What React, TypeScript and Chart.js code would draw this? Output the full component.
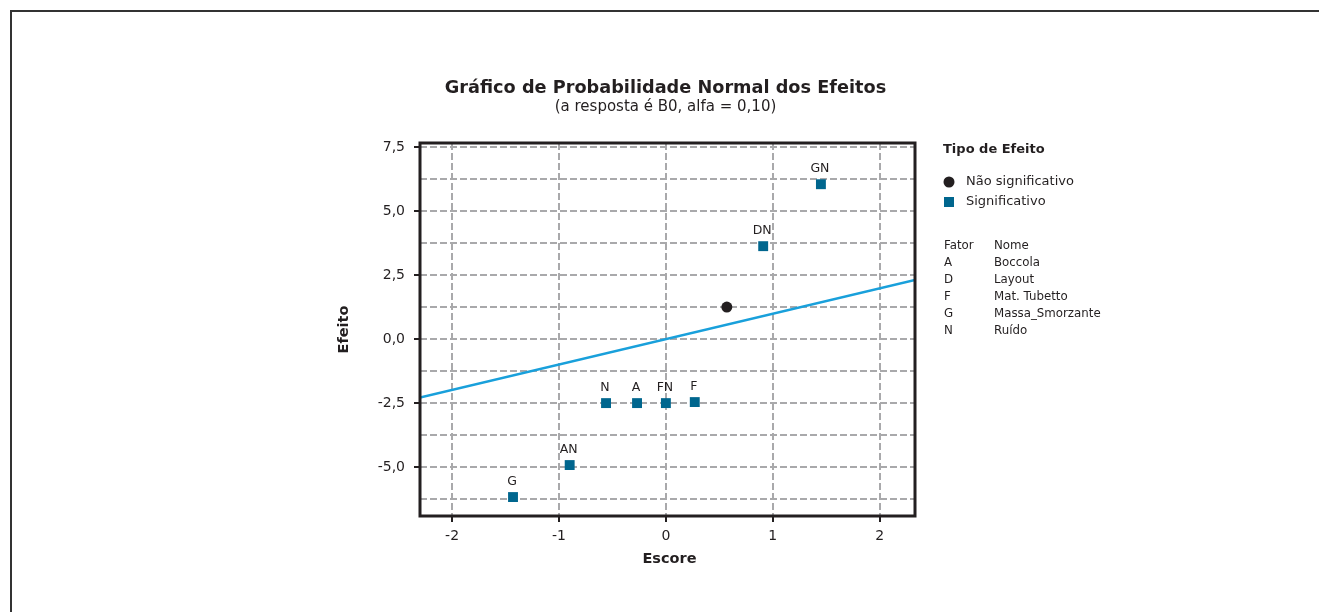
import React, { useEffect, useRef } from 'react';
import { Chart, registerables } from 'chart.js';

Chart.register(...registerables);

const FONT = '"DejaVu Sans", Verdana, sans-serif';

const TITLE = 'Gráfico de Probabilidade Normal dos Efeitos';
const SUBTITLE = '(a resposta é B0, alfa = 0,10)';
const X_TITLE = 'Escore';
const Y_TITLE = 'Efeito';

const X_TICKS = [-2, -1, 0, 1, 2];
const X_TICK_LABELS = ['-2', '-1', '0', '1', '2'];
const Y_GRID = [-6.25, -5, -3.75, -2.5, -1.25, 0, 1.25, 2.5, 3.75, 5, 6.25, 7.5];
const Y_LABELED = [-5, -2.5, 0, 2.5, 5, 7.5];
const Y_TICK_LABELS = ['-5,0', '-2,5', '0,0', '2,5', '5,0', '7,5'];

const SIG_LABELS = ['G', 'AN', 'N', 'A', 'FN', 'F', 'DN', 'GN'];
const SIG_SCORES = [-1.43, -0.9, -0.56, -0.27, 0.0, 0.27, 0.91, 1.45];
const SIG_EFFECTS = [-6.17, -4.92, -2.5, -2.5, -2.5, -2.46, 3.63, 6.05];

const NONSIG_SCORES = [0.57];
const NONSIG_EFFECTS = [1.25];

const LINE_SCORES = [-2.3, 2.33];
const LINE_EFFECTS = [-2.28, 2.31];

const LEGEND_TITLE = 'Tipo de Efeito';
const LEGEND_ITEMS = ['Não significativo', 'Significativo'];
const FACTOR_HEADER = ['Fator', 'Nome'];
const FACTORS = ['A', 'D', 'F', 'G', 'N'];
const FACTOR_NAMES = ['Boccola', 'Layout', 'Mat. Tubetto', 'Massa_Smorzante', 'Ruído'];

const C_SQUARE = '#00668e';
const C_DOT = '#231f20';
const C_LINE = '#19a0db';
const C_GRID = '#a9a9ab';
const C_TEXT = '#231f20';

const overlay = {
  id: 'overlay',
  afterDraw(chart: any) {
    const ctx = chart.ctx as CanvasRenderingContext2D;
    const a = chart.chartArea;
    ctx.save();
    // outer frame
    ctx.strokeStyle = '#333333';
    ctx.lineWidth = 2;
    ctx.beginPath();
    ctx.moveTo(11, 612);
    ctx.lineTo(11, 11);
    ctx.lineTo(1319, 11);
    ctx.stroke();

    // plot border
    ctx.strokeStyle = C_TEXT;
    ctx.lineWidth = 3;
    ctx.strokeRect(a.left, a.top, a.right - a.left, a.bottom - a.top);

    const cx = (a.left + a.right) / 2;
    ctx.fillStyle = C_TEXT;
    ctx.textAlign = 'center';
    ctx.textBaseline = 'alphabetic';
    ctx.font = `bold 17.7px ${FONT}`;
    ctx.fillText(TITLE, cx - 2, 93);
    ctx.font = `15px ${FONT}`;
    ctx.fillText(SUBTITLE, cx - 2, 111);

    // axis titles
    ctx.textBaseline = 'middle';
    ctx.font = `bold 14.5px ${FONT}`;
    ctx.fillText(X_TITLE, cx + 2, 559);
    ctx.save();
    ctx.translate(344, (a.top + a.bottom) / 2);
    ctx.rotate(-Math.PI / 2);
    ctx.fillText(Y_TITLE, 0, 0);
    ctx.restore();

    // point labels
    const meta = chart.getDatasetMeta(2);
    ctx.font = `12.5px ${FONT}`;
    meta.data.forEach((el: any, i: number) => {
      ctx.fillText(SIG_LABELS[i], el.x - 1, el.y - 15);
    });

    // legend
    const lx = a.right + 28;
    ctx.textAlign = 'left';
    ctx.font = `bold 13px ${FONT}`;
    ctx.fillText(LEGEND_TITLE, lx, 150);
    ctx.font = `13px ${FONT}`;
    ctx.fillStyle = C_DOT;
    ctx.beginPath();
    ctx.arc(lx + 6, 182, 5.5, 0, Math.PI * 2);
    ctx.fill();
    ctx.fillStyle = C_SQUARE;
    ctx.fillRect(lx + 1, 197, 10, 10);
    ctx.fillStyle = C_TEXT;
    ctx.fillText(LEGEND_ITEMS[0], lx + 23, 182);
    ctx.fillText(LEGEND_ITEMS[1], lx + 23, 202);

    ctx.font = `11.8px ${FONT}`;
    const rowY = 246;
    const rowH = 17;
    ctx.fillText(FACTOR_HEADER[0], lx + 1, rowY);
    ctx.fillText(FACTOR_HEADER[1], lx + 51, rowY);
    FACTORS.forEach((f, i) => {
      ctx.fillText(f, lx + 1, rowY + rowH * (i + 1));
      ctx.fillText(FACTOR_NAMES[i], lx + 51, rowY + rowH * (i + 1));
    });
    ctx.restore();
  },
};

export default function App() {
  const ref = useRef<HTMLCanvasElement | null>(null);
  useEffect(() => {
    if (!ref.current) return;
    const chart = new Chart(ref.current, {
      type: 'scatter',
      data: {
        datasets: [
          {
            label: 'line',
            data: LINE_SCORES.map((x, i) => ({ x, y: LINE_EFFECTS[i] })),
            showLine: true,
            borderColor: C_LINE,
            backgroundColor: C_LINE,
            borderWidth: 2.6,
            pointRadius: 0,
          },
          {
            label: LEGEND_ITEMS[0],
            data: NONSIG_SCORES.map((x, i) => ({ x, y: NONSIG_EFFECTS[i] })),
            pointStyle: 'circle',
            pointRadius: 5.5,
            backgroundColor: C_DOT,
            borderWidth: 0,
          },
          {
            label: LEGEND_ITEMS[1],
            data: SIG_SCORES.map((x, i) => ({ x, y: SIG_EFFECTS[i] })),
            pointStyle: 'rect',
            pointRadius: 7,
            backgroundColor: C_SQUARE,
            borderWidth: 0,
          },
        ],
      } as any,
      options: {
        animation: false,
        responsive: false,
        events: [],
        layout: { padding: { left: 330, right: 404, top: 143, bottom: 40 } },
        plugins: { legend: { display: false }, tooltip: { enabled: false }, title: { display: false } },
        scales: {
          x: {
            type: 'linear',
            min: -2.3,
            max: 2.33,
            afterBuildTicks: (s: any) => {
              s.ticks = X_TICKS.map((v) => ({ value: v }));
            },
            afterFit: (s: any) => {
              s.height = 56;
            },
            ticks: {
              autoSkip: false,
              maxRotation: 0,
              padding: 6,
              color: C_TEXT,
              font: { family: FONT, size: 14 },
              callback: (v: any) => {
                const i = X_TICKS.indexOf(Number(v));
                return i >= 0 ? X_TICK_LABELS[i] : '';
              },
            },
            grid: { color: C_GRID, lineWidth: 2, tickLength: 6, tickColor: C_TEXT, tickWidth: 2 },
            border: { display: false, dash: [7, 3] },
          },
          y: {
            type: 'linear',
            min: -6.91,
            max: 7.66,
            afterBuildTicks: (s: any) => {
              s.ticks = Y_GRID.map((v) => ({ value: v }));
            },
            afterFit: (s: any) => {
              s.width = 90;
            },
            ticks: {
              autoSkip: false,
              padding: 9,
              color: C_TEXT,
              font: { family: FONT, size: 14 },
              callback: (v: any) => {
                const i = Y_LABELED.indexOf(Number(v));
                return i >= 0 ? Y_TICK_LABELS[i] : '';
              },
            },
            grid: {
              color: C_GRID,
              lineWidth: 2,
              tickLength: 6,
              tickWidth: 2,
              tickColor: (c: any) => (c.tick && Y_LABELED.includes(c.tick.value) ? C_TEXT : 'rgba(0,0,0,0)'),
            },
            border: { display: false, dash: [7, 3] },
          },
        },
      } as any,
      plugins: [overlay],
    });
    return () => chart.destroy();
  }, []);
  return (
    <div style={{ position: 'fixed', left: 0, top: 0, width: 1319, height: 612, background: '#fff' }}>
      <canvas ref={ref} width={1319} height={612} style={{ display: 'block' }} />
    </div>
  );
}
